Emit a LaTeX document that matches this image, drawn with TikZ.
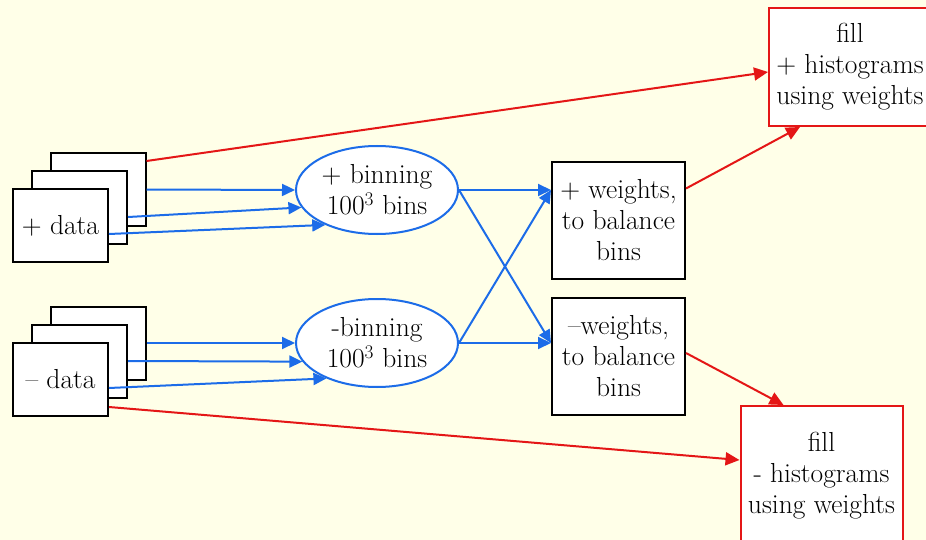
\documentclass[tikz,border=0pt]{standalone}
\usepackage{fontspec}
\usetikzlibrary{arrows.meta,shapes.geometric}
\definecolor{paper}{RGB}{255,255,232}
\definecolor{flowblue}{RGB}{28,108,232}
\definecolor{flowred}{RGB}{228,22,22}
\tikzset{
  every node/.style={font=\rmfamily\fontsize{27.5}{31}\selectfont, inner sep=0pt, align=center},
  databox/.style={draw=black, line width=2pt, fill=white, minimum width=95pt, minimum height=73pt},
  binbox/.style={ellipse, draw=flowblue, line width=2pt, fill=white, minimum width=162pt, minimum height=88pt},
  weightbox/.style={draw=black, line width=2pt, fill=white, minimum width=133pt, minimum height=117pt},
  fillbox/.style={draw=flowred, line width=2pt, fill=white, minimum width=162pt},
  bluearrow/.style={draw=flowblue, line width=2pt, -{Triangle[length=13pt,width=12pt]}},
  redarrow/.style={draw=flowred, line width=2pt, -{Triangle[length=14pt,width=13pt]}}
}
\begin{document}
\begin{tikzpicture}[x=1pt,y=-1pt]
  \fill[paper] (0,0) rectangle (926,540);
  \useasboundingbox (0,0) rectangle (926,540);

  % stacked input data sets
  \node[databox] (pd3) at (98,189.5) {};
  \node[databox] (pd2) at (79.5,207.5) {};
  \node[databox] (pd1) at (60.5,225.5) {+ data};
  \node[databox] (md3) at (98,343) {};
  \node[databox] (md2) at (79.5,361) {};
  \node[databox] (md1) at (60.5,379.5) {-- data};

  % binning stages
  \node[binbox] (pbin) at (377,190) {+ binning\\100\textsuperscript{3} bins};
  \node[binbox] (mbin) at (377,343) {-binning\\100\textsuperscript{3} bins};

  % weight computation
  \node[weightbox] (wp) at (618.5,220.5) {+ weights,\\to balance\\bins};
  \node[weightbox] (wm) at (618.5,356.5) {--weights,\\to balance\\bins};

  % histogram filling
  \node[fillbox, minimum height=118pt] (fp) at (850,67) {fill\\+ histograms\\using weights};
  \node[fillbox, minimum height=140pt] (fm) at (821.5,476) {fill\\- histograms\\using weights};

  % data into binning
  \draw[bluearrow] (pd3.east) -- (pbin.west);
  \draw[bluearrow] ([yshift=-9.5pt]pd2.east) -- (pbin.193);
  \draw[bluearrow] ([yshift=-8.5pt]pd1.east) -- (pbin.214);
  \draw[bluearrow] (md3.east) -- (mbin.west);
  \draw[bluearrow] (md2.east) -- (mbin.194);
  \draw[bluearrow] ([yshift=-8.5pt]md1.east) -- (mbin.215);

  % binning into weights
  \draw[bluearrow] (pbin.east) -- (wp.west |- pbin.east);
  \draw[bluearrow] (pbin.east) -- (wm.west |- mbin.east);
  \draw[bluearrow] (mbin.east) -- (wp.west |- pbin.east);
  \draw[bluearrow] (mbin.east) -- (wm.west |- mbin.east);

  % filling the histograms
  \draw[redarrow] ([yshift=-9pt]pd3.north east) -- ([yshift=-5pt]fp.west);
  \draw[redarrow] ([yshift=32pt]wp.east) -- ([xshift=-50pt]fp.south);
  \draw[redarrow] ([yshift=3.5pt]wm.east) -- ([xshift=-38pt]fm.north);
  \draw[redarrow] ([yshift=10pt]md1.south east) -- ([yshift=16pt]fm.west);
\end{tikzpicture}
\end{document}
